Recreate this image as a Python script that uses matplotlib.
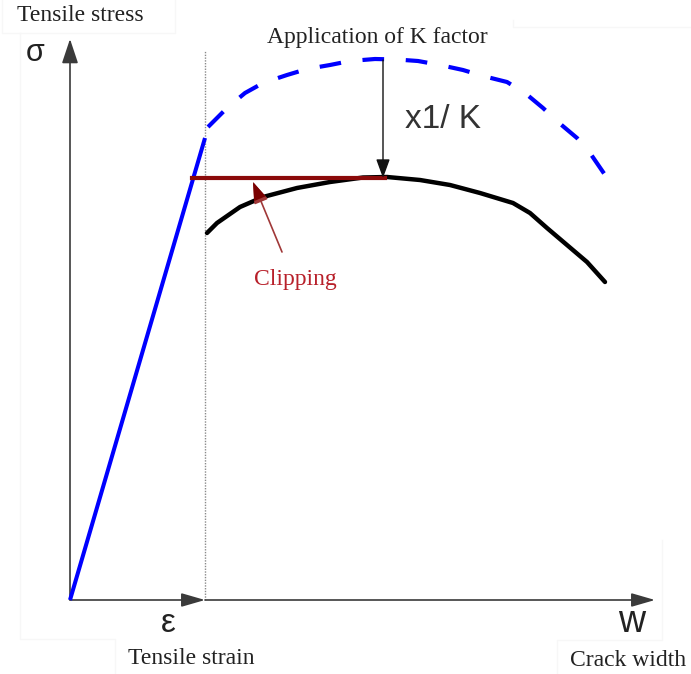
import matplotlib.pyplot as plt
from matplotlib.patches import FancyArrowPatch

# diagram units: origin at the axes corner, 1 unit ~ 100 px
# linear elastic branch (stress vs strain)
elastic_x = [0.0, 1.35]
elastic_y = [0.0, 4.62]

# softening branch (stress vs crack width), reduced by 1/K
soft_x = [1.37, 1.47, 1.70, 1.93, 2.27, 2.60, 2.93, 3.17, 3.50, 3.80,
          4.10, 4.43, 4.60, 4.77, 4.97, 5.17, 5.35]
soft_y = [3.67, 3.77, 3.93, 4.03, 4.12, 4.18, 4.225, 4.23, 4.20, 4.15,
          4.07, 3.97, 3.87, 3.72, 3.55, 3.38, 3.18]

# original softening law before the K factor
orig_x = [1.38, 1.57, 1.75, 1.93, 2.17, 2.37, 2.60, 2.80, 3.05, 3.27, 3.48,
          3.70, 3.93, 4.13, 4.37, 4.55, 4.73, 4.88, 5.07, 5.20, 5.33, 5.38]
orig_y = [4.73, 4.92, 5.07, 5.17, 5.25, 5.31, 5.35, 5.39, 5.41, 5.405, 5.39,
          5.35, 5.30, 5.24, 5.18, 5.07, 4.92, 4.78, 4.62, 4.47, 4.28, 4.21]

# clipping plateau
clip_level = 4.22
clip_x = [1.22, 3.15]

eps_limit = 1.35
k_x = 3.13

fig = plt.figure(figsize=(6.91, 6.74), dpi=100)
ax = fig.add_axes([0, 0, 1, 1])
ax.set_xlim(-0.70, 6.21)
ax.set_ylim(-0.74, 6.00)
ax.axis('off')

# faint frames around the pasted text boxes
frames = [
    [(2, 0), (2, 33), (175, 33), (175, 0)],
    [(20, 33), (20, 639), (115, 639), (115, 674)],
    [(557, 674), (557, 640), (662, 640), (662, 540)],
    [(513, 20), (513, 27), (691, 27)],
]
for fr in frames:
    xs = [p[0] / 691 for p in fr]
    ys = [1 - p[1] / 674 for p in fr]
    fig.lines.append(plt.Line2D(xs, ys, transform=fig.transFigure,
                                color='#f7f7f7', lw=1))

axis_col = '#3a3a3a'


def arrow(tail, tip, hl, hw, lw, col, zorder=3):
    a = FancyArrowPatch(tail, tip,
                        arrowstyle='-|>,head_length=%g,head_width=%g' % (hl, hw),
                        mutation_scale=10, lw=lw, color=col,
                        shrinkA=0, shrinkB=0, zorder=zorder)
    ax.add_patch(a)


# axes with arrows
arrow((0, 0), (0, 5.61), 1.5, 0.5, 1.2, axis_col)
arrow((0, 0), (eps_limit, 0), 1.45, 0.42, 1.2, axis_col)
arrow((eps_limit, 0), (5.85, 0), 1.45, 0.42, 1.2, axis_col)

# limit of the elastic branch
ax.plot([eps_limit, eps_limit], [0, 5.50], color='#8a8a8a', lw=1,
        dashes=(1, 1), zorder=1)

# curves
ax.plot(elastic_x, elastic_y, color='#0000ff', lw=2.9, solid_capstyle='butt', zorder=4)
ax.plot(orig_x, orig_y, color='#0000ff', lw=3.0, dashes=(5.2, 5.2), zorder=4)
ax.plot(soft_x, soft_y, color='black', lw=3.2, solid_capstyle='round',
        solid_joinstyle='round', zorder=4)
ax.plot(clip_x, [clip_level, clip_level], color='#8b0a0a', lw=3.0, zorder=5)

# K factor arrow
arrow((k_x, 5.40), (k_x, clip_level), 1.15, 0.42, 1.0, '#111111', zorder=6)

# clipping pointer
arrow((2.12, 3.48), (1.83, 4.18), 1.3, 0.45, 1.2, '#a03838', zorder=6)
ax.add_patch(FancyArrowPatch((2.12, 3.48), (1.83, 4.18),
                             arrowstyle='-|>,head_length=1.3,head_width=0.45',
                             mutation_scale=10, lw=0, color='#7a0000',
                             shrinkA=0, shrinkB=0, zorder=7))

serif = 'Liberation Serif'
sans = 'Liberation Sans'
txt = '#222222'

ax.text(0.10, 5.85, 'Tensile stress', family=serif, fontsize=17,
        color=txt, ha='center', va='center')
ax.text(3.07, 5.63, 'Application of K factor', family=serif, fontsize=17,
        color=txt, ha='center', va='center')
ax.text(3.73, 4.81, 'x1/ K', family=sans, fontsize=24, color='#333333',
        ha='center', va='center')
ax.text(2.25, 3.20, 'Clipping', family=serif, fontsize=17,
        color='#b8202a', ha='center', va='center')
ax.text(-0.35, 5.47, 'σ', family=sans, fontsize=22, color=txt,
        ha='center', va='center')
ax.text(0.98, -0.24, 'ε', family=sans, fontsize=24, color=txt,
        ha='center', va='center')
ax.text(5.62, -0.22, 'w', family=sans, fontsize=27, color=txt,
        ha='center', va='center')
ax.text(1.21, -0.58, 'Tensile strain', family=serif, fontsize=17,
        color=txt, ha='center', va='center')
ax.text(5.58, -0.60, 'Crack width', family=serif, fontsize=17,
        color=txt, ha='center', va='center')

fig.savefig('out.png', dpi=100)
